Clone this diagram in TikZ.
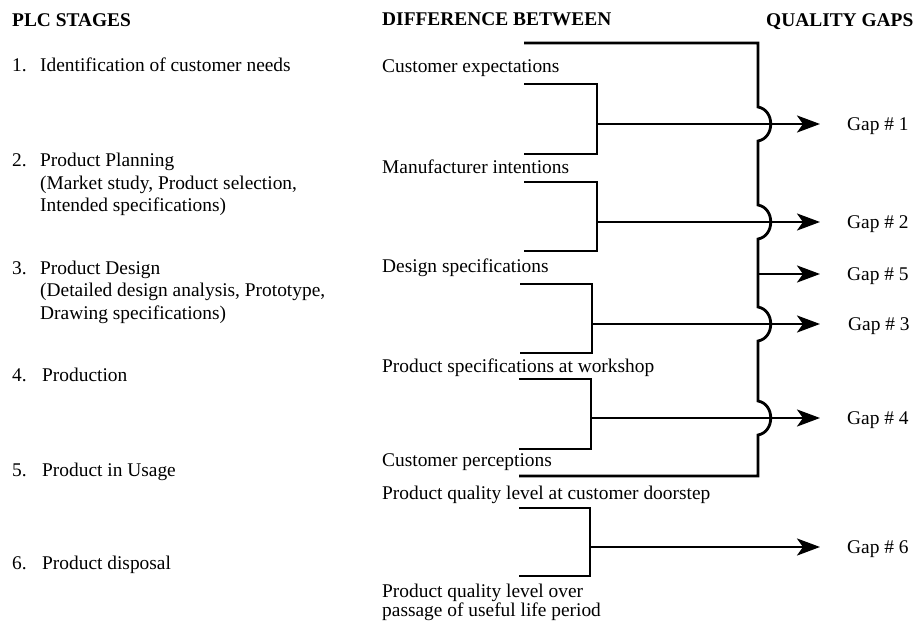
\documentclass[tikz,border=0pt]{standalone}
\usepackage{fontspec}
\setmainfont{Liberation Serif}
\usetikzlibrary{arrows.meta}
\begin{document}
\begin{tikzpicture}[x=1pt,y=-1pt,
  txt/.style={anchor=base west,inner sep=0pt,font=\fontsize{19.4}{22}\selectfont},
  hdr/.style={anchor=base west,inner sep=0pt,font=\fontsize{19.4}{22}\selectfont\bfseries},
  ln/.style={line width=2.8pt,line join=miter},
  arr/.style={line width=2.8pt,-{Stealth[length=23pt,width=17pt,inset=6pt]},shorten >=27pt},
]
\useasboundingbox (0,0) rectangle (914,621);

% left column
\node[hdr] (plc) at (12,27) {PLC STAGES};
\node[txt] (n1) at (12,71) {1.};
\node[txt] (s1) at (40,71) {Identification of customer needs};
\node[txt] (n2) at (12,166) {2.};
\node[txt] (s2) at (40,166) {Product Planning};
\node[txt] (s2b) at (40,189) {(Market study, Product selection,};
\node[txt] (s2c) at (40,211) {Intended specifications)};
\node[txt] (n3) at (12,274) {3.};
\node[txt] (s3) at (40,274) {Product Design};
\node[txt] (s3b) at (40,296) {(Detailed design analysis, Prototype,};
\node[txt] (s3c) at (40,319) {Drawing specifications)};
\node[txt] (n4) at (12,381) {4.};
\node[txt] (s4) at (42,381) {Production};
\node[txt] (n5) at (12,476) {5.};
\node[txt] (s5) at (42,476) {Product in Usage};
\node[txt] (n6) at (12,569) {6.};
\node[txt] (s6) at (42,569) {Product disposal};

% middle column
\node[hdr] (diff) at (382,25) {DIFFERENCE BETWEEN};
\node[txt] (d1) at (382,72) {Customer expectations};
\node[txt] (d2) at (382,173) {Manufacturer intentions};
\node[txt] (d3) at (382,272) {Design specifications};
\node[txt] (d4) at (382,372) {Product specifications at workshop};
\node[txt] (d5) at (382,466) {Customer perceptions};
\node[txt] (d6) at (382,499) {Product quality level at customer doorstep};
\node[txt] (d7) at (382,597) {Product quality level over};
\node[txt] (d7b) at (382,616) {passage of useful life period};

% right column
\node[hdr] (qg) at (766,27) {QUALITY GAPS};
\node[txt] (g1) at (847,130) {Gap \# 1};
\node[txt] (g2) at (847,228) {Gap \# 2};
\node[txt] (g5) at (847,280) {Gap \# 5};
\node[txt] (g3) at (848,330) {Gap \# 3};
\node[txt] (g4) at (847,424) {Gap \# 4};
\node[txt] (g6) at (847,553) {Gap \# 6};

% brackets
\coordinate (b1a) at (524,84);  \coordinate (b1b) at (597,84);
\coordinate (b1c) at (597,154); \coordinate (b1d) at (524,154);
\coordinate (b1m) at (597,124);
\coordinate (b2a) at (524,182); \coordinate (b2b) at (597,182);
\coordinate (b2c) at (597,251); \coordinate (b2d) at (524,251);
\coordinate (b2m) at (597,222);
\coordinate (b3a) at (520,284); \coordinate (b3b) at (592,284);
\coordinate (b3c) at (592,353); \coordinate (b3d) at (520,353);
\coordinate (b3m) at (592,324);
\coordinate (b4a) at (519,379); \coordinate (b4b) at (591,379);
\coordinate (b4c) at (591,449); \coordinate (b4d) at (519,449);
\coordinate (b4m) at (591,418);
\coordinate (b6a) at (519,508); \coordinate (b6b) at (590,508);
\coordinate (b6c) at (590,576); \coordinate (b6d) at (519,576);
\coordinate (b6m) at (590,547);

\draw[ln] (b1a) -- (b1b) -- (b1c) -- (b1d);
\draw[ln] (b2a) -- (b2b) -- (b2c) -- (b2d);
\draw[ln] (b3a) -- (b3b) -- (b3c) -- (b3d);
\draw[ln] (b4a) -- (b4b) -- (b4c) -- (b4d);
\draw[ln] (b6a) -- (b6b) -- (b6c) -- (b6d);

% main outer connector with jump-overs
\coordinate (t0) at (524,43);
\coordinate (t1) at (758,43);
\coordinate (j5) at (758,274);
\coordinate (bl) at (519,476);
\draw[ln] (t0) -- (t1)
  -- (758,107) .. controls (775,110) and (775,138) .. (758,141)
  -- (758,205) .. controls (775,208) and (775,236) .. (758,239)
  -- (758,307) .. controls (775,310) and (775,338) .. (758,341)
  -- (758,401) .. controls (775,404) and (775,432) .. (758,435)
  -- (758,476) -- (bl);

% arrows
\draw[arr] (b1m) -- (b1m -| g1.west);
\draw[arr] (b2m) -- (b2m -| g2.west);
\draw[arr] (j5) -- (j5 -| g5.west);
\draw[arr] (b3m) -- (b3m -| g5.west);
\draw[arr] (b4m) -- (b4m -| g4.west);
\draw[arr] (b6m) -- (b6m -| g6.west);
\end{tikzpicture}
\end{document}
